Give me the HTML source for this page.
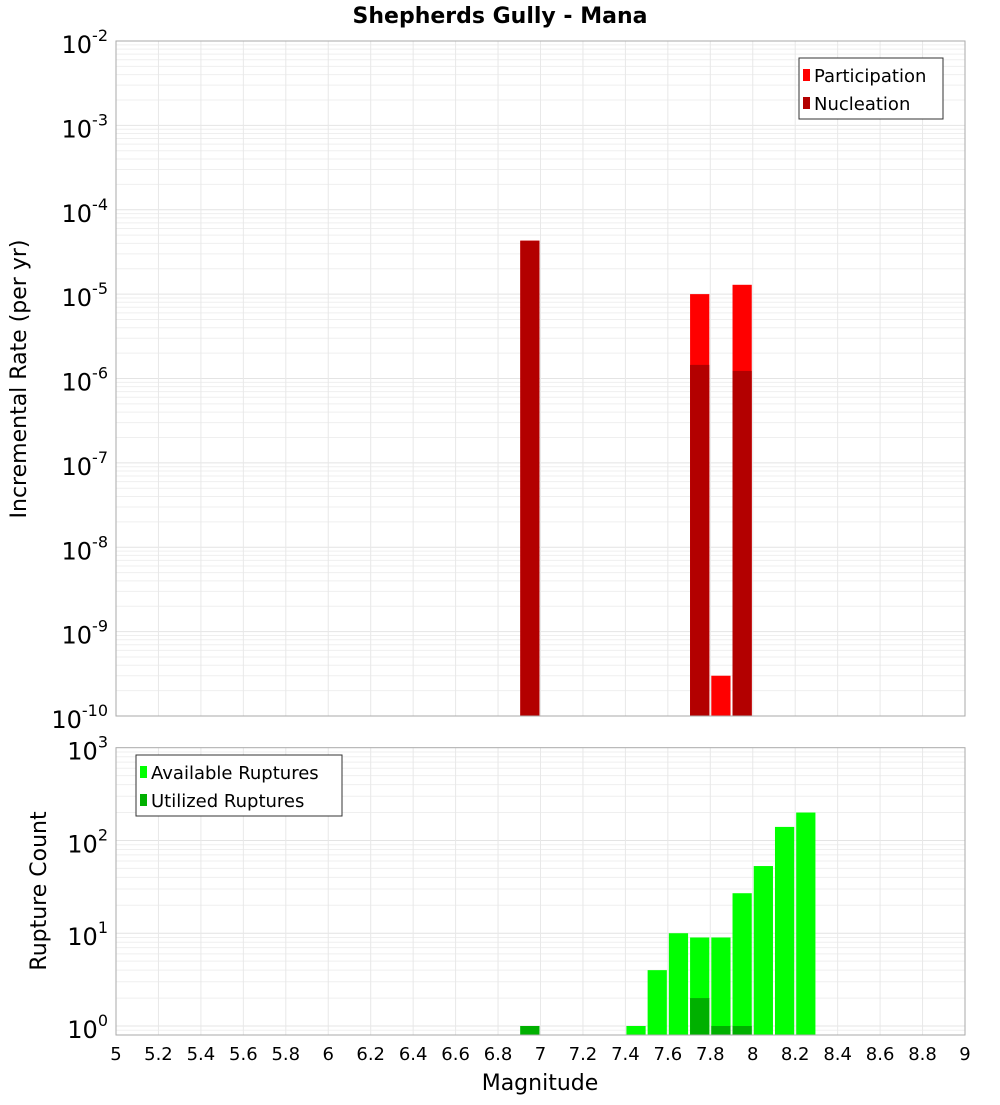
<!DOCTYPE html>
<html><head><meta charset="utf-8"><style>
body{margin:0;background:#fff;}
svg text{font-family:"DejaVu Sans","Liberation Sans",sans-serif;}
</style></head><body>
<svg id="c" width="1000" height="1100" xmlns="http://www.w3.org/2000/svg"></svg>
<script>
const binCenters = [6.95, 7.75, 7.85, 7.95];
const participation = [4.3e-5, 1.0e-5, 3.0e-10, 1.29e-5];
const nucleation = [4.3e-5, 1.45e-6, 0, 1.23e-6];
const countCenters = [6.95, 7.45, 7.55, 7.65, 7.75, 7.85, 7.95, 8.05, 8.15, 8.25];
const available = [1, 1, 4, 10, 9, 9, 27, 53, 140, 200];
const utilized = [1, 0, 0, 0, 2, 1, 1, 0, 0, 0];
const xTicks = [5,5.2,5.4,5.6,5.8,6,6.2,6.4,6.6,6.8,7,7.2,7.4,7.6,7.8,8,8.2,8.4,8.6,8.8,9];
const topExps = [-2,-3,-4,-5,-6,-7,-8,-9,-10];
const botExps = [3,2,1,0];

const svg=document.getElementById('c');
const NS='http://www.w3.org/2000/svg';
function mk(tag,attrs,parent){const e=document.createElementNS(NS,tag);for(const k in attrs)e.setAttribute(k,attrs[k]);(parent||svg).appendChild(e);return e;}
const L=116,R=965;
const xs=m=>L+(m-5)/4*(R-L);
const T1=41,B1=716,T2=747.7,B2=1035;
const y1=v=>T1+(-2-Math.log10(v))/8*(B1-T1);
const y2=v=>T2+(3-Math.log10(v))/3*(1026-T2);
const bw=(R-L)/40;

function grid(top,bot,yf,lo,hi){
  const g=mk('g',{});
  
  
  for(let e=lo;e<hi;e++){for(let k=1;k<10;k++){const v=k*Math.pow(10,e);const y=yf(v);if(y<top||y>bot)continue;
    mk('line',{x1:L,x2:R,y1:y,y2:y,stroke:k==1?'#e4e4e4':'#efefef','stroke-width':1},g);}}
  xTicks.forEach(t=>{const x=xs(t);mk('line',{x1:x,x2:x,y1:top,y2:bot,stroke:'#e8e8e8','stroke-width':1},g);});
}
grid(T1,B1,y1,-10,-2);
grid(T2,B2,y2,-1,3);

// top bars
binCenters.forEach((c,i)=>{
  const x=xs(c)-bw/2+1;
  if(participation[i]>0){const r=mk('rect',{x:x,y:y1(participation[i]),width:bw-2,height:B1-y1(participation[i]),fill:'#ff0000'});
    }
  if(nucleation[i]>0){const r=mk('rect',{x:x,y:y1(nucleation[i]),width:bw-2,height:B1-y1(nucleation[i]),fill:'#b30000'});
    }
});
// bottom bars
countCenters.forEach((c,i)=>{
  const x=xs(c)-bw/2+1;
  if(available[i]>0){const r=mk('rect',{x:x,y:y2(available[i]),width:bw-2,height:B2-y2(available[i]),fill:'#00ff00'});
    }
  if(utilized[i]>0){const r=mk('rect',{x:x,y:y2(utilized[i]),width:bw-2,height:B2-y2(utilized[i]),fill:'#00b000'});
    }
});

// frames
let f=mk('rect',{x:L,y:T1,width:R-L,height:B1-T1,fill:'none',stroke:'#aaa','stroke-width':1});

f=mk('rect',{x:L,y:T2,width:R-L,height:B2-T2,fill:'none',stroke:'#aaa','stroke-width':1});


// y tick labels
function ylab(e,y){const t=mk('text',{x:108,y:y+12,'text-anchor':'end','font-size':24,fill:'#000'});
  
  const a=document.createElementNS(NS,'tspan');a.textContent='10';t.appendChild(a);
  const b=document.createElementNS(NS,'tspan');b.setAttribute('dy','-12');b.setAttribute('font-size','16');b.textContent=String(e);t.appendChild(b);}
topExps.forEach(e=>ylab(e,y1(Math.pow(10,e))));
botExps.forEach(e=>ylab(e,y2(Math.pow(10,e))));

// x tick labels
xTicks.forEach(t=>{const el=mk('text',{x:xs(t),y:1060,'text-anchor':'middle','font-size':18,fill:'#000'});
  el.textContent=String(t);});

function txt(s,attrs,name){const e=mk('text',attrs);e.textContent=s;return e;}
txt('Shepherds Gully - Mana',{x:500,y:23,'text-anchor':'middle','font-size':22,'font-weight':'bold'},'chart-title');
txt('Magnitude',{x:540,y:1090,'text-anchor':'middle','font-size':22},'x-axis-title');
txt('Incremental Rate (per yr)',{x:0,y:0,'text-anchor':'middle','font-size':22,transform:'translate(26,379) rotate(-90)'},'top-y-axis-title');
txt('Rupture Count',{x:0,y:0,'text-anchor':'middle','font-size':22,transform:'translate(46,891) rotate(-90)'},'bottom-y-axis-title');

// legends
function legend(x,y,w,items,name){const g=mk('g',{});
  mk('rect',{x:x,y:y,width:w,height:61,fill:'#fff',stroke:'#333','stroke-width':1},g);
  items.forEach((it,i)=>{mk('rect',{x:x+4,y:y+11+i*28,width:7,height:12,fill:it[1]},g);
    const t=mk('text',{x:x+15,y:y+24+i*28,'font-size':18},g);t.textContent=it[0];});}
legend(799,58,144,[['Participation','#ff0000'],['Nucleation','#b30000']],'top-legend');
legend(136,755,206,[['Available Ruptures','#00ff00'],['Utilized Ruptures','#00b000']],'bottom-legend');
</script>
</body></html>
